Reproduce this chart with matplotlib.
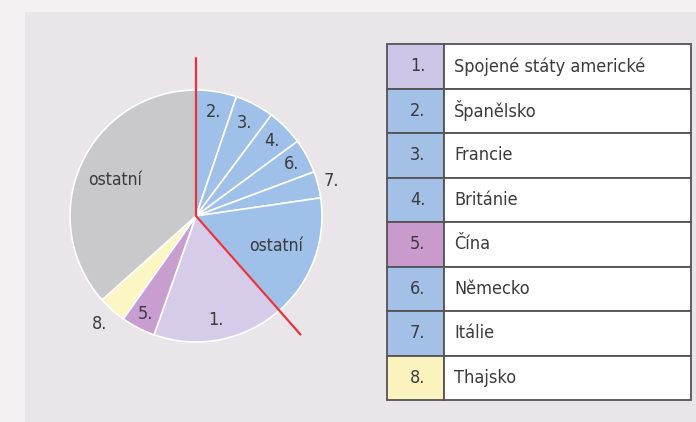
import numpy as np
import matplotlib
matplotlib.use('Agg')
import matplotlib.pyplot as plt
from matplotlib.patches import Rectangle

# pie slices, clockwise from 12 o'clock (percent)
slice_labels = ['2.', '3.', '4.', '6.', '7.', 'ostatní', '1.', '5.', '8.', 'ostatní']
slice_values = [5.2, 5.0, 4.7, 4.4, 3.4, 15.8, 16.9, 4.4, 3.6, 36.6]
slice_colors = ['#9fc0e9', '#9fc0e9', '#9fc0e9', '#9fc0e9', '#9fc0e9', '#9fc0e9',
                '#d6cbe9', '#c89ed0', '#fcf6c4', '#c9c8ca']
# how far out each label sits (fraction of radius)
label_r = [0.84, 0.83, 0.85, 0.86, 1.11, 0.68, 0.84, 0.88, 1.15, 0.70]
europe_count = 6  # first six slices are bounded by the red lines

# legend table
numbers = ['1.', '2.', '3.', '4.', '5.', '6.', '7.', '8.']
countries = ['Spojené státy americké', 'Španělsko', 'Francie', 'Británie',
             'Čína', 'Německo', 'Itálie', 'Thajsko']
table_colors = ['#cec6e7', '#a3c1e7', '#a3c1e7', '#a3c1e7',
                '#c99bcc', '#a3c1e7', '#a3c1e7', '#fbf3be']

plt.rcParams['font.family'] = ['DejaVu Sans']
plt.rcParams['font.stretch'] = 'condensed'
txt = '#3b3a3c'

fig = plt.figure(figsize=(6.96, 4.22), dpi=100)
fig.patch.set_facecolor('#f5f1f2')
ax = fig.add_axes([0, 0, 1, 1])

# grey panel
ax.add_patch(Rectangle((25, 0), 671, 410, facecolor='#e9e5e8', edgecolor='none', zorder=0))

cx, cy, R = 196, 206, 126
wedges, _ = ax.pie(slice_values, colors=slice_colors, startangle=90, counterclock=False,
                   center=(cx, cy), radius=R,
                   wedgeprops=dict(edgecolor='white', linewidth=1.2))

for w, lab, rr in zip(wedges, slice_labels, label_r):
    mid = np.deg2rad((w.theta1 + w.theta2) / 2)
    ax.text(cx + rr * R * np.cos(mid), cy + rr * R * np.sin(mid), lab,
            ha='center', va='center', fontsize=13 if lab != 'ostatní' else 12.5,
            color=txt, zorder=5)

# red lines around the European part
a0 = np.deg2rad(90)
a1 = np.deg2rad(90 - 3.6 * sum(slice_values[:europe_count]))
L = 1.26 * R
ax.plot([cx + L * np.cos(a0), cx, cx + L * np.cos(a1)],
        [cy + L * np.sin(a0), cy, cy + L * np.sin(a1)],
        color='#e8323c', lw=1.6, solid_capstyle='butt', zorder=6)

# table
tx0, tx1, tx2 = 387, 444, 691
ttop, rh = 378, 44.5
for i, (n, c, col) in enumerate(zip(numbers, countries, table_colors)):
    y = ttop - (i + 1) * rh
    ax.add_patch(Rectangle((tx0, y), tx1 - tx0, rh, facecolor=col,
                           edgecolor='#555355', lw=1.3, zorder=3))
    ax.add_patch(Rectangle((tx1, y), tx2 - tx1, rh, facecolor='white',
                           edgecolor='#555355', lw=1.3, zorder=3))
    ax.text((tx0 + tx1) / 2 + 2, y + rh / 2, n, ha='center', va='center',
            fontsize=13, color=txt, zorder=4)
    ax.text(tx1 + 10, y + rh / 2, c, ha='left', va='center',
            fontsize=13, color=txt, zorder=4)

ax.set_xlim(0, 696)
ax.set_ylim(0, 422)
ax.set_aspect('auto')
ax.axis('off')

fig.savefig('out.png', dpi=100, facecolor=fig.get_facecolor())
